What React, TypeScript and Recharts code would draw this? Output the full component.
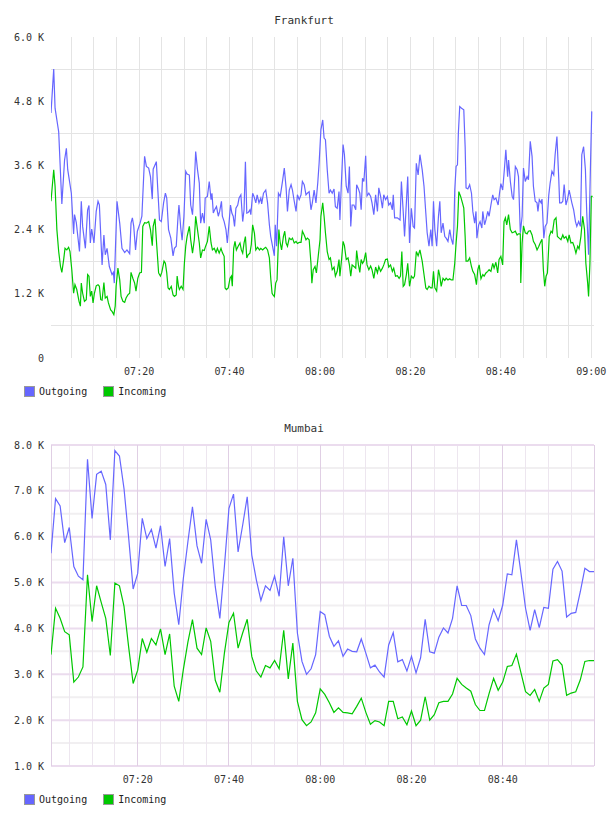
import React from 'react';
import { LineChart, Line, XAxis, YAxis, ReferenceLine } from 'recharts';

const FONT = '"DejaVu Sans Mono", "Liberation Mono", monospace';
const OUT_COLOR = '#6666ff';
const IN_COLOR = '#00c800';

// ---------- Frankfurt: [minutes after 07:00, value in K] ----------
const fraOutgoing: [number, number][] = [
  [0.5,4.58],[1.1,5.40],[1.4,4.67],[2.2,4.23],[2.9,2.88],[3.5,3.70],[3.9,3.92],[4.2,3.52],[5.0,3.08],[5.5,2.32],
  [5.7,2.68],[6.1,2.53],[6.8,1.99],[7.2,2.93],[7.5,2.46],[8.1,2.05],[8.6,2.77],[8.9,2.85],[9.2,2.15],[9.5,2.41],
  [10.0,2.15],[10.5,2.74],[10.9,2.93],[11.2,2.86],[11.8,1.74],[12.2,2.30],[12.5,1.93],[12.9,2.05],[13.4,1.71],[14.0,1.56],
  [14.3,1.60],[14.5,1.40],[15.1,2.93],[15.7,2.52],[16.2,2.05],[16.8,1.97],[17.3,2.02],[17.9,1.95],[18.2,2.52],[18.5,2.62],
  [18.8,2.46],[19.2,2.02],[19.6,2.37],[20.2,2.52],[20.6,2.65],[21.2,3.77],[21.6,3.58],[22.1,3.55],[22.5,3.39],[22.9,2.97],
  [23.1,3.53],[23.8,3.67],[24.1,3.18],[24.5,2.58],[24.9,2.55],[25.4,2.90],[25.8,3.08],[26.1,2.99],[26.5,2.40],[27.0,2.24],
  [27.5,1.91],[27.8,2.05],[28.2,2.09],[28.6,2.65],[28.8,2.86],[29.2,2.43],[29.5,2.20],[29.9,2.65],[30.3,3.49],[30.6,3.44],
  [31.1,3.42],[31.4,2.86],[31.8,2.68],[32.2,3.27],[32.5,3.86],[32.9,3.52],[33.3,3.27],[33.6,2.52],[34.0,2.71],[34.4,2.52],
  [34.6,2.99],[35.1,3.02],[35.5,3.30],[35.9,2.96],[36.1,3.08],[36.4,2.71],[36.7,2.77],[37.1,2.83],[37.5,2.65],[37.8,2.74],
  [38.2,2.93],[38.4,2.65],[38.8,2.55],[39.2,2.40],[39.5,2.15],[39.9,2.55],[40.2,2.86],[40.5,2.71],[40.8,2.65],[41.1,2.46],
  [41.4,2.80],[41.8,2.86],[42.1,2.99],[42.5,3.05],[42.9,2.55],[43.2,2.77],[43.5,3.67],[43.8,2.71],[44.1,2.72],[44.5,2.77],
  [44.7,2.68],[45.1,3.08],[45.4,3.02],[45.8,2.90],[46.1,3.05],[46.5,2.90],[46.9,2.99],[47.1,2.88],[47.5,3.08],[48.0,3.14],
  [48.4,2.90],[48.8,2.49],[49.1,2.27],[49.5,2.09],[49.9,1.91],[50.1,2.49],[50.4,2.09],[50.8,3.08],[51.2,3.02],[51.7,3.30],
  [52.1,3.55],[52.5,3.18],[52.8,2.74],[53.2,3.14],[53.6,3.24],[53.9,3.14],[54.3,2.93],[54.7,2.74],[55.0,3.05],[55.4,2.96],
  [55.8,3.05],[56.1,3.30],[56.5,3.24],[56.9,3.05],[57.2,3.08],[57.6,3.11],[58.0,2.77],[58.3,2.90],[58.7,3.14],[59.1,2.90],
  [59.5,3.27],[59.8,3.64],[60.2,4.27],[60.6,4.45],[60.9,4.11],[61.2,4.08],[61.6,3.52],[62.0,3.08],[62.3,3.14],[62.7,3.08],
  [63.1,3.16],[63.4,2.83],[63.8,2.80],[64.2,3.11],[64.4,2.58],[64.7,3.21],[65.1,3.99],[65.4,3.80],[65.8,3.21],[66.2,3.08],
  [66.5,3.58],[66.8,2.46],[67.1,2.86],[67.5,2.86],[67.9,2.77],[68.1,3.24],[68.5,3.16],[68.8,3.08],[69.1,2.77],[69.4,3.36],
  [69.7,3.30],[70.1,3.78],[70.4,3.03],[70.8,3.08],[71.2,3.02],[71.5,2.90],[71.9,2.68],[72.3,3.05],[72.7,2.74],[73.0,3.18],
  [73.4,3.02],[73.8,2.80],[74.1,3.05],[74.5,2.96],[74.9,3.02],[75.2,2.86],[75.6,2.90],[76.0,2.77],[76.2,3.05],[76.5,2.62],
  [77.1,2.62],[77.7,2.58],[78.0,3.30],[78.4,2.74],[78.7,2.27],[79.1,2.90],[79.4,3.39],[79.8,2.15],[80.2,2.80],[80.6,2.46],
  [80.9,2.43],[81.3,3.64],[81.7,3.42],[82.1,3.80],[82.6,3.52],[83.0,3.21],[83.4,2.71],[83.7,2.34],[84.1,2.09],[84.5,2.40],
  [84.8,2.09],[85.1,2.93],[85.4,2.40],[85.8,2.09],[86.2,2.65],[86.5,2.93],[86.8,2.34],[87.2,2.52],[87.6,2.27],[87.9,2.24],
  [88.3,2.18],[88.7,2.40],[89.0,2.24],[89.4,2.12],[89.6,2.40],[89.8,3.14],[90.1,3.58],[90.4,3.61],[90.6,4.20],[90.9,4.70],
  [91.3,4.67],[91.8,4.64],[92.1,3.95],[92.3,3.18],[92.7,3.16],[93.1,3.24],[93.5,3.08],[93.8,2.74],[94.2,2.52],[94.5,2.74],
  [94.7,2.24],[95.1,2.49],[95.4,2.55],[95.8,2.43],[96.0,2.74],[96.4,2.49],[96.7,2.58],[97.1,2.74],[97.4,2.65],[97.8,2.86],
  [98.2,3.05],[98.5,2.96],[98.9,2.99],[99.4,2.86],[99.7,3.08],[100.0,3.26],[100.4,3.14],[100.8,3.55],[101.1,3.89],[101.5,3.39],
  [101.7,3.70],[102.1,3.30],[102.5,3.02],[102.8,2.96],[103.2,3.58],[103.6,3.52],[103.9,3.39],[104.3,2.34],[104.7,2.65],[105.0,3.55],
  [105.4,3.30],[105.8,3.39],[106.1,3.33],[106.5,4.05],[106.9,3.77],[107.2,3.21],[107.6,2.93],[108.0,2.90],[108.2,2.74],[108.5,2.96],
  [108.9,2.90],[109.1,2.97],[109.5,2.24],[109.8,2.46],[110.2,2.52],[110.6,3.05],[110.9,3.27],[111.3,3.49],[111.7,3.42],[112.0,3.80],
  [112.4,4.14],[112.8,3.36],[113.0,2.90],[113.4,2.90],[113.7,2.93],[114.0,3.24],[114.4,2.86],[114.8,2.99],[115.1,3.14],[115.4,3.02],
  [115.7,2.90],[116.1,2.77],[116.5,2.55],[116.8,2.46],[117.2,2.55],[117.6,2.46],[117.9,3.80],[118.3,3.95],[118.7,3.52],[119.0,2.71],
  [119.4,1.93],[119.8,3.52],[120.1,4.61],
];

const fraIncoming: [number, number][] = [
  [0.5,2.93],[1.1,3.52],[1.4,3.21],[1.8,2.40],[2.2,1.99],[2.6,1.71],[2.9,1.60],[3.3,1.84],[3.6,2.05],[4.0,2.02],
  [4.4,2.07],[4.7,1.99],[5.1,1.65],[5.5,1.21],[5.8,1.37],[6.2,1.28],[6.7,1.06],[7.0,0.97],[7.2,1.40],[7.5,1.21],
  [7.9,1.06],[8.3,1.09],[8.6,1.56],[8.9,1.53],[9.2,1.15],[9.5,1.25],[9.8,1.03],[10.1,1.21],[10.5,1.35],[10.9,1.37],
  [11.2,1.34],[11.5,1.09],[11.8,1.08],[12.2,1.41],[12.5,1.12],[12.9,1.15],[13.2,1.03],[13.7,0.90],[14.0,0.87],[14.4,0.81],
  [14.7,0.97],[14.9,1.34],[15.3,1.68],[15.7,1.46],[16.0,1.15],[16.4,1.06],[16.8,1.04],[17.1,1.12],[17.5,1.18],[17.9,1.21],
  [18.2,1.60],[18.6,1.49],[19.0,1.40],[19.3,1.25],[19.7,1.49],[20.1,1.59],[20.5,1.60],[20.8,2.46],[21.2,2.53],[21.6,2.52],
  [22.1,2.55],[22.5,2.40],[22.9,2.10],[23.1,2.46],[23.5,2.60],[23.9,2.09],[24.3,1.59],[24.7,1.53],[25.0,1.60],[25.5,1.81],
  [25.8,1.77],[26.1,1.59],[26.4,1.31],[26.7,1.28],[27.1,1.34],[27.5,1.18],[27.8,1.15],[28.2,1.18],[28.4,1.53],[28.7,1.34],
  [28.9,1.28],[29.3,1.34],[29.7,1.28],[30.0,1.77],[30.3,2.09],[30.6,2.27],[31.1,2.46],[31.4,2.21],[31.8,1.96],[32.2,2.21],
  [32.5,2.65],[32.9,2.40],[33.3,2.15],[33.6,1.87],[34.0,2.02],[34.4,2.01],[34.7,2.09],[35.1,2.18],[35.5,2.46],[35.9,2.15],
  [36.2,2.02],[36.6,2.05],[37.0,1.97],[37.3,2.05],[37.7,1.96],[38.1,2.05],[38.4,1.97],[38.8,1.90],[39.0,1.31],[39.3,1.28],
  [39.7,1.31],[40.1,1.49],[40.4,1.53],[40.6,1.34],[40.9,2.05],[41.2,2.18],[41.5,2.02],[41.9,2.09],[42.3,2.15],[42.6,2.02],
  [42.9,1.96],[43.2,2.15],[43.5,2.27],[43.8,1.87],[44.1,1.93],[44.5,1.96],[44.8,2.12],[45.1,2.49],[45.5,2.33],[45.8,2.02],
  [46.2,2.07],[46.6,2.02],[46.9,2.05],[47.3,2.02],[47.7,2.05],[48.0,2.07],[48.4,2.02],[48.8,1.87],[49.1,1.49],[49.4,1.21],
  [49.6,1.18],[49.9,1.15],[50.2,1.40],[50.5,1.46],[50.7,1.96],[50.9,2.40],[51.2,2.15],[51.5,2.02],[51.9,2.27],[52.2,2.37],
  [52.5,2.15],[52.8,2.09],[53.2,2.24],[53.6,2.21],[53.9,2.24],[54.3,2.15],[54.7,2.18],[55.0,2.14],[55.4,2.16],[55.8,2.16],
  [56.1,2.37],[56.5,2.30],[56.9,2.21],[57.2,2.24],[57.6,2.21],[58.0,1.77],[58.2,1.40],[58.5,1.65],[58.9,1.71],[59.2,1.59],
  [59.6,1.90],[60.0,2.21],[60.2,2.65],[60.6,2.90],[60.9,2.65],[61.2,2.34],[61.6,1.99],[62.0,1.84],[62.3,1.87],[62.7,1.65],
  [63.1,1.70],[63.4,1.53],[63.8,1.62],[64.2,1.84],[64.4,1.53],[64.8,1.87],[65.1,2.18],[65.4,2.10],[65.8,1.84],[66.2,1.87],
  [66.5,1.74],[66.8,1.53],[67.1,1.74],[67.5,1.71],[67.9,1.68],[68.1,2.01],[68.5,1.74],[68.8,1.60],[69.1,1.84],[69.4,1.77],
  [69.7,1.81],[70.1,1.97],[70.4,1.74],[70.8,1.65],[71.2,1.72],[71.5,1.65],[71.9,1.49],[72.3,1.70],[72.7,1.59],[73.0,1.71],
  [73.4,1.62],[73.8,1.68],[74.1,1.74],[74.5,1.84],[74.9,1.85],[75.2,1.70],[75.6,1.74],[76.0,1.62],[76.3,1.68],[76.7,1.53],
  [77.1,1.54],[77.5,1.49],[77.8,1.53],[78.1,1.99],[78.4,1.34],[78.7,1.37],[79.1,1.56],[79.4,1.77],[79.8,1.34],[80.2,1.53],
  [80.6,1.49],[80.9,1.53],[81.3,1.99],[81.7,1.91],[82.1,2.02],[82.6,1.81],[83.0,1.56],[83.4,1.31],[83.7,1.28],[84.1,1.34],
  [84.5,1.31],[84.8,1.31],[85.1,1.62],[85.4,1.31],[85.8,1.25],[86.2,1.65],[86.5,1.53],[86.8,1.34],[87.2,1.49],[87.6,1.45],
  [87.9,1.49],[88.3,1.46],[88.7,1.48],[89.0,1.46],[89.4,1.46],[89.8,1.77],[90.1,2.15],[90.4,2.46],[90.7,3.11],[91.1,3.02],
  [91.5,2.90],[91.8,2.80],[92.1,2.27],[92.3,1.81],[92.7,1.81],[93.1,1.87],[93.5,1.71],[93.8,1.62],[94.2,1.56],[94.6,1.37],
  [94.9,1.65],[95.2,1.74],[95.6,1.48],[96.0,1.56],[96.3,1.53],[96.7,1.59],[97.1,1.62],[97.4,1.65],[97.8,1.62],[98.2,1.77],
  [98.5,1.68],[98.9,1.79],[99.3,1.59],[99.6,1.84],[100.0,1.90],[100.4,1.74],[100.7,2.55],[101.0,2.62],[101.3,2.49],[101.7,2.68],
  [102.1,2.40],[102.5,2.34],[102.8,2.35],[103.2,2.37],[103.6,2.30],[103.9,2.32],[104.3,2.32],[104.4,1.40],[104.7,2.15],[105.0,2.47],
  [105.4,2.34],[105.8,2.32],[106.1,2.37],[106.5,2.38],[106.9,2.30],[107.2,2.18],[107.6,2.12],[108.0,2.02],[108.4,2.09],[108.7,2.15],
  [109.1,2.22],[109.4,1.65],[109.7,1.34],[110.0,1.53],[110.3,1.59],[110.7,2.27],[111.1,2.37],[111.4,2.34],[111.8,2.58],[112.2,2.62],
  [112.5,2.27],[112.9,2.24],[113.3,2.21],[113.7,2.30],[114.0,2.24],[114.4,2.27],[114.8,2.18],[115.1,2.30],[115.5,2.15],[115.9,2.16],
  [116.2,2.09],[116.6,1.96],[117.0,2.09],[117.3,2.04],[117.7,2.27],[118.1,2.65],[118.5,2.40],[118.8,1.77],[119.2,1.40],[119.4,1.15],
  [119.7,1.77],[120.0,3.02],[120.3,3.02],
];

// ---------- Mumbai: one value per minute, 07:01 .. 09:00 (K) ----------
const mumOutgoing = [
  5.64, 6.83, 6.67, 5.87, 6.20, 5.35, 5.14, 5.06, 7.69, 6.40,
  7.36, 7.43, 7.14, 5.93, 7.88, 7.76, 7.05, 6.00, 4.86, 5.20,
  6.40, 5.96, 6.16, 5.75, 6.24, 5.35, 5.96, 4.77, 4.08, 5.09,
  5.89, 6.65, 5.80, 5.42, 6.38, 5.93, 4.91, 4.22, 5.35, 6.62,
  6.93, 5.67, 6.25, 6.87, 5.60, 5.06, 4.61, 4.93, 4.83, 5.14,
  4.70, 6.00, 4.93, 5.53, 3.90, 3.28, 3.00, 3.12, 3.43, 4.37,
  4.30, 3.83, 3.61, 3.73, 3.39, 3.55, 3.50, 3.49, 3.77, 3.46,
  3.14, 3.20, 3.05, 2.94, 3.64, 3.91, 3.27, 3.32, 3.07, 3.39,
  3.03, 3.36, 4.20, 3.49, 3.46, 3.81, 4.01, 3.90, 4.22, 4.93,
  4.50, 4.50, 4.28, 3.77, 3.57, 3.43, 4.08, 4.41, 4.17, 4.51,
  5.19, 5.17, 5.93, 5.20, 4.44, 3.96, 4.41, 4.02, 4.46, 4.44,
  5.29, 5.46, 5.25, 4.25, 4.33, 4.35, 4.80, 5.31, 5.24, 5.24,
];
const mumIncoming = [
  3.43, 4.44, 4.22, 3.93, 3.86, 2.83, 2.94, 3.16, 5.17, 4.15,
  4.93, 4.57, 4.22, 3.41, 4.99, 4.93, 4.48, 3.61, 2.80, 3.09,
  3.78, 3.48, 3.78, 3.64, 3.99, 3.43, 3.88, 2.74, 2.41, 3.10,
  3.70, 4.19, 3.57, 3.43, 4.01, 3.72, 2.87, 2.61, 3.46, 4.13,
  4.33, 3.57, 3.90, 4.20, 3.39, 3.07, 2.94, 3.19, 3.14, 3.30,
  3.12, 3.96, 2.90, 3.68, 2.41, 2.01, 1.88, 1.96, 2.16, 2.68,
  2.56, 2.38, 2.17, 2.27, 2.17, 2.16, 2.14, 2.30, 2.48, 2.17,
  1.91, 1.99, 1.96, 1.88, 2.41, 2.41, 2.03, 2.07, 1.90, 2.20,
  1.88, 2.00, 2.51, 2.00, 2.12, 2.38, 2.41, 2.41, 2.57, 2.91,
  2.78, 2.70, 2.63, 2.34, 2.21, 2.21, 2.58, 2.91, 2.65, 2.83,
  3.17, 3.19, 3.44, 3.03, 2.62, 2.54, 2.67, 2.41, 2.70, 2.78,
  3.29, 3.32, 3.20, 2.54, 2.59, 2.62, 2.88, 3.28, 3.30, 3.30,
];
const mumFirstMinute = 1;

// ---------- ticks ----------
const fraYTicks = [0, 1.2, 2.4, 3.6, 4.8, 6.0];
const fraYGrid = [0.6, 1.8, 3.0, 4.2, 5.4];
const fraXTicks = [20, 40, 60, 80, 100, 120];
const fraXGrid = [5, 10, 15, 20, 25, 30, 35, 40, 45, 50, 55, 60, 65, 70, 75, 80, 85, 90, 95, 100, 105, 110, 115, 120];

const mumYTicks = [1, 2, 3, 4, 5, 6, 7, 8];
const mumYMinor = [1.5, 2.5, 3.5, 4.5, 5.5, 6.5, 7.5];
const mumXTicks = [20, 40, 60, 80, 100];
const mumXMinor = [5, 10, 15, 25, 30, 35, 45, 50, 55, 65, 70, 75, 85, 90, 95, 105, 110, 115];

const seriesNames = ['Outgoing', 'Incoming'];

function fmtTime(m: number) {
  const total = 7 * 60 + Math.round(m);
  const h = Math.floor(total / 60);
  const mm = total % 60;
  return `${String(h).padStart(2, '0')}:${String(mm).padStart(2, '0')}`;
}
function fmtK(v: number) {
  return v === 0 ? '0' : `${v.toFixed(1)} K`;
}

const tickStyle = { fontSize: 10, fontFamily: FONT, fill: '#333' };

function Legend() {
  const colors = [OUT_COLOR, IN_COLOR];
  return (
    <div style={{ position: 'absolute', left: 24, top: 386, display: 'flex', alignItems: 'center', fontFamily: FONT, fontSize: 10, color: '#222' }}>
      {seriesNames.map((n, i) => (
        <div key={n} style={{ display: 'flex', alignItems: 'center', marginRight: i === 0 ? 16 : 0 }}>
          <div style={{ width: 9, height: 9, background: colors[i], border: '1px solid #999', marginRight: 4 }} />
          <span>{n}</span>
        </div>
      ))}
    </div>
  );
}

function Title({ text }: { text: string }) {
  return (
    <div style={{ position: 'absolute', left: 0, top: 14, width: 608, textAlign: 'center', fontFamily: FONT, fontSize: 11, color: '#333', lineHeight: '14px' }}>
      {text}
    </div>
  );
}

const MARGIN = { top: 37, right: 14, bottom: 0, left: 0 };

function Frankfurt() {
  const outData = fraOutgoing.map(([t, v]) => ({ t, v }));
  const inData = fraIncoming.map(([t, v]) => ({ t, v }));
  const g = '#e4e4e4';
  return (
    <div style={{ position: 'absolute', left: 0, top: 0, width: 608, height: 408 }}>
      <Title text="Frankfurt" />
      <LineChart width={608} height={408} margin={MARGIN}>
        <XAxis dataKey="t" type="number" domain={[0.5, 120.6]} allowDataOverflow ticks={fraXTicks} interval={0}
          tickFormatter={fmtTime} axisLine={false} tickLine={false} tickSize={0} tickMargin={10} height={50} tick={tickStyle} />
        <YAxis type="number" domain={[0, 6]} allowDataOverflow ticks={fraYTicks} interval={0} tickFormatter={fmtK}
          axisLine={false} tickLine={false} tickSize={0} tickMargin={7} width={51} tick={tickStyle} />
        {fraXGrid.map((x) => (
          <ReferenceLine key={'vx' + x} x={x} stroke={g} strokeWidth={1} shapeRendering="crispEdges" />
        ))}
        {fraYGrid.map((y) => (
          <ReferenceLine key={'hy' + y} y={y} stroke={g} strokeWidth={1} shapeRendering="crispEdges" />
        ))}
        <Line data={inData} dataKey="v" name="Incoming" type="linear" stroke={IN_COLOR} strokeWidth={1.2} dot={false} isAnimationActive={false} />
        <Line data={outData} dataKey="v" name="Outgoing" type="linear" stroke={OUT_COLOR} strokeWidth={1.2} dot={false} isAnimationActive={false} />
      </LineChart>
      <Legend />
    </div>
  );
}

function Mumbai() {
  const outData = mumOutgoing.map((v, i) => ({ t: mumFirstMinute + i, v }));
  const inData = mumIncoming.map((v, i) => ({ t: mumFirstMinute + i, v }));
  const major = '#ebdcee';
  const majorV = '#e0cfe4';
  const minorH = '#f1eff1';
  const minorV = '#ede6ef';
  return (
    <div style={{ position: 'absolute', left: 0, top: 408, width: 608, height: 408 }}>
      <Title text="Mumbai" />
      <LineChart width={608} height={408} margin={MARGIN}>
        <XAxis dataKey="t" type="number" domain={[1, 120]} allowDataOverflow ticks={mumXTicks} interval={0}
          tickFormatter={fmtTime} axisLine={false} tickLine={false} tickSize={0} tickMargin={10} height={50} tick={tickStyle} />
        <YAxis type="number" domain={[1, 8]} allowDataOverflow ticks={mumYTicks} interval={0} tickFormatter={fmtK}
          axisLine={false} tickLine={false} tickSize={0} tickMargin={7} width={51} tick={tickStyle} />
        {mumYMinor.map((y) => (
          <ReferenceLine key={'my' + y} y={y} stroke={minorH} strokeWidth={2} />
        ))}
        {mumXMinor.map((x) => (
          <ReferenceLine key={'mx' + x} x={x} stroke={minorV} strokeWidth={1} shapeRendering="crispEdges" />
        ))}
        {mumYTicks.map((y) => (
          <ReferenceLine key={'My' + y} y={y} stroke={major} strokeWidth={2} />
        ))}
        {[1, ...mumXTicks, 120].map((x) => (
          <ReferenceLine key={'Mx' + x} x={x} stroke={majorV} strokeWidth={1} shapeRendering="crispEdges" />
        ))}
        <Line data={inData} dataKey="v" name="Incoming" type="linear" stroke={IN_COLOR} strokeWidth={1.2} dot={false} isAnimationActive={false} />
        <Line data={outData} dataKey="v" name="Outgoing" type="linear" stroke={OUT_COLOR} strokeWidth={1.2} dot={false} isAnimationActive={false} />
      </LineChart>
      <Legend />
    </div>
  );
}

export default function App() {
  return (
    <div style={{ position: 'relative', width: 608, height: 816, background: '#fff', overflow: 'hidden' }}>
      <style>{`body{margin:0;}`}</style>
      <Frankfurt />
      <Mumbai />
    </div>
  );
}
